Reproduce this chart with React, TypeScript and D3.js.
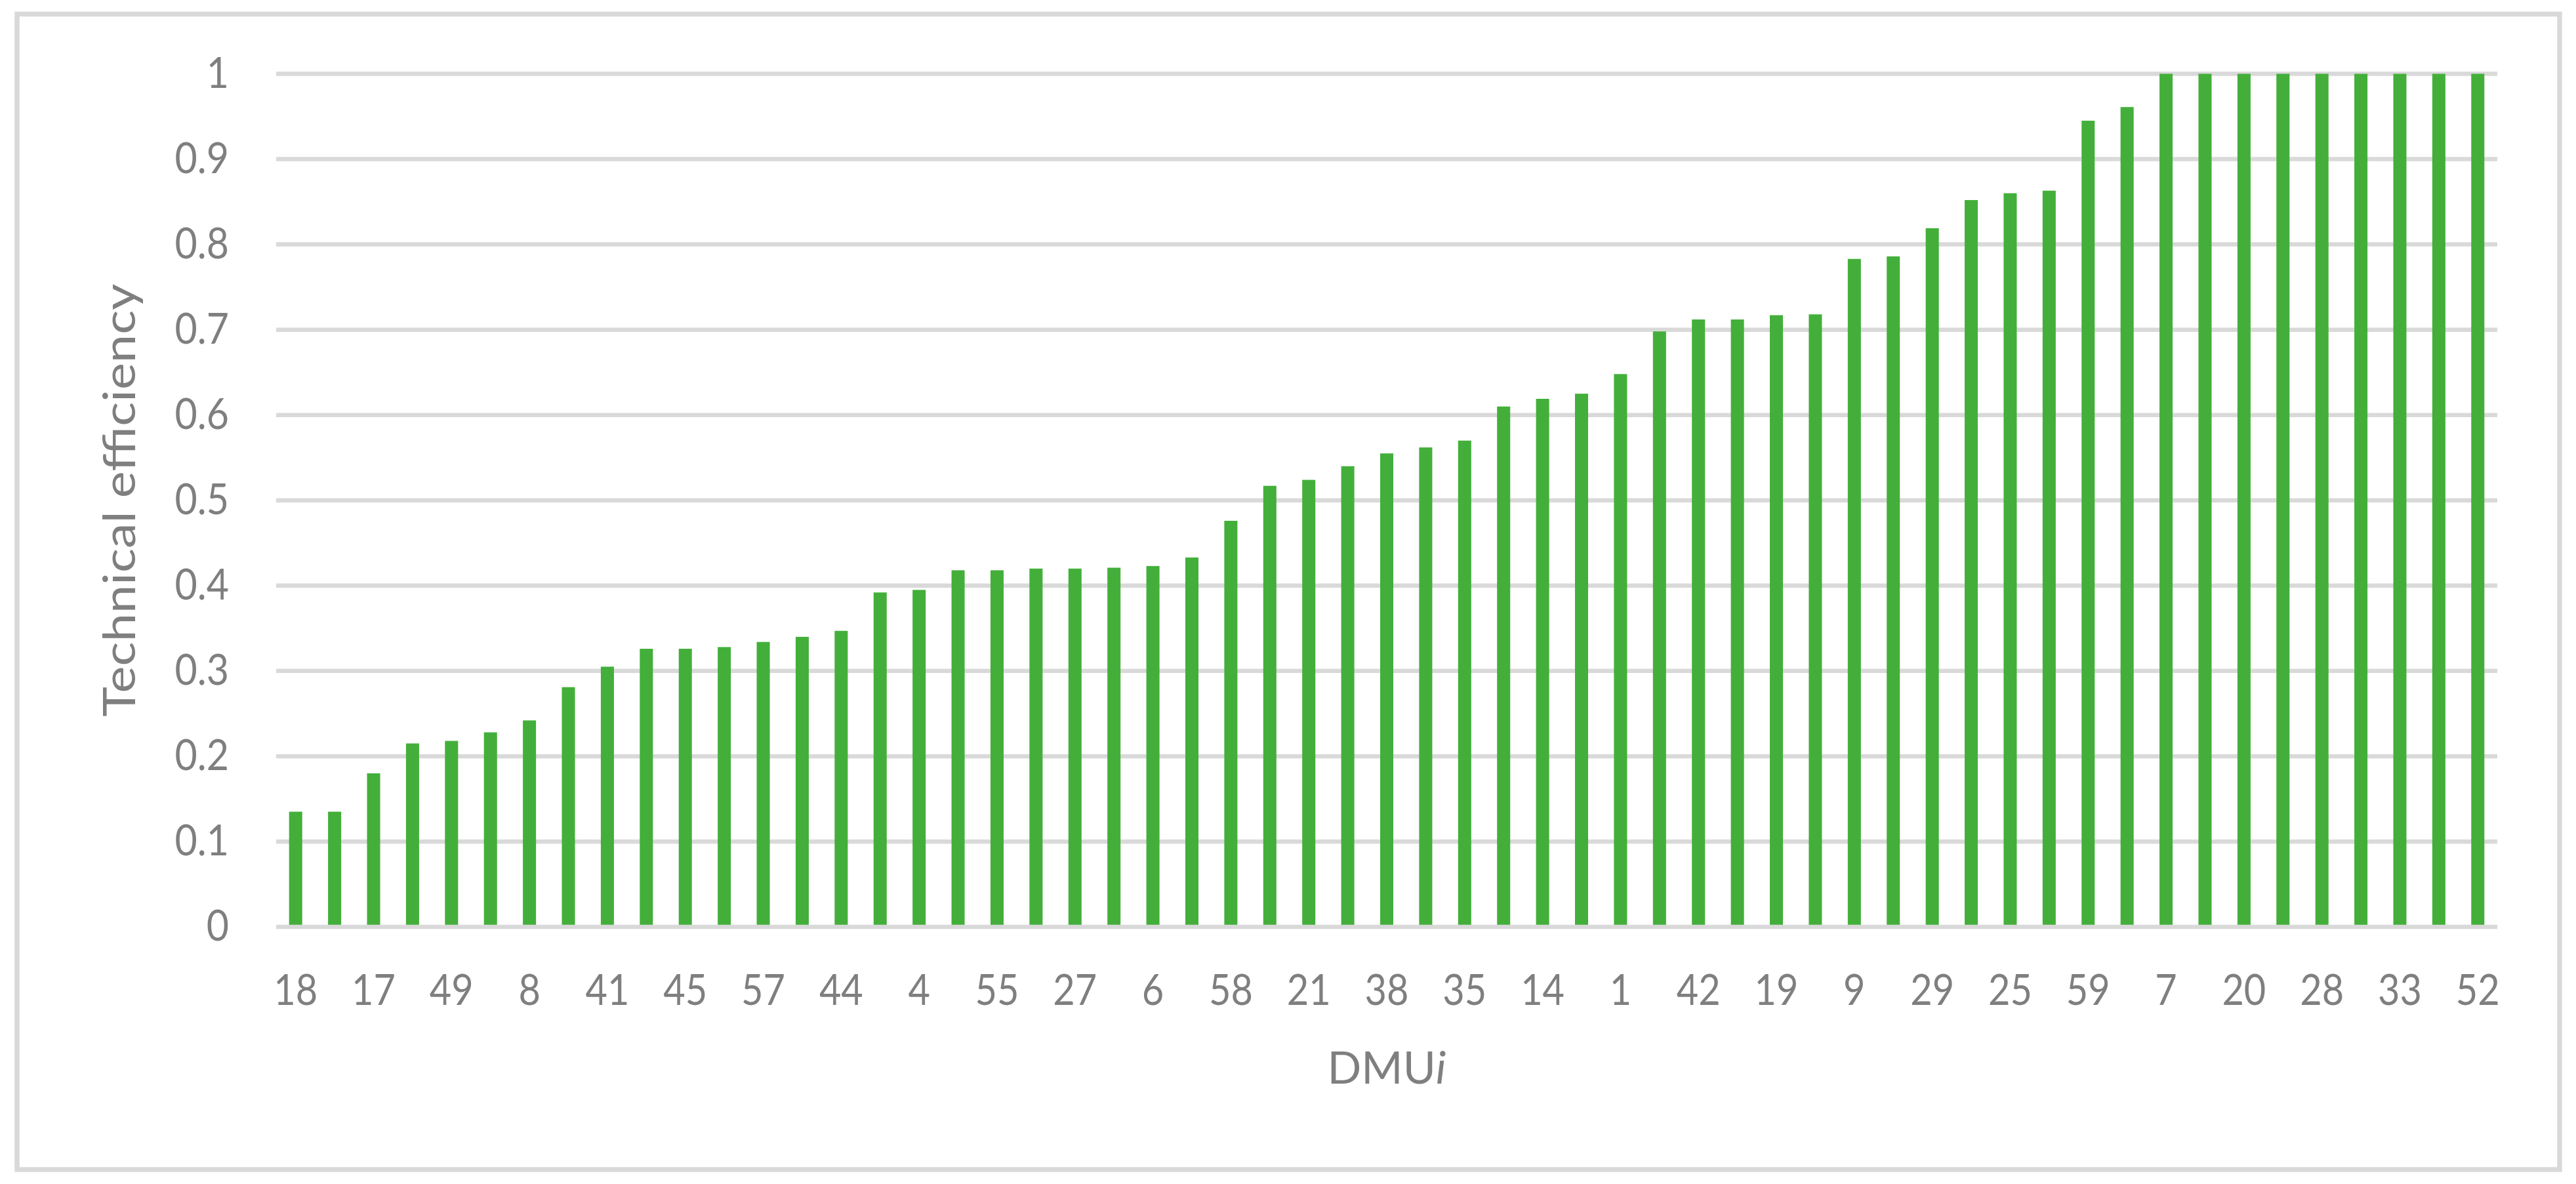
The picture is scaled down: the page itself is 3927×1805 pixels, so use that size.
import React from "react";
import * as d3 from "d3";

// DMU labels (only every other category label is displayed in the source chart)
const dmuLabels: string[] = [
  "18", "", "17", "", "49", "", "8", "", "41", "", "45", "", "57", "", "44", "",
  "4", "", "55", "", "27", "", "6", "", "58", "", "21", "", "38", "", "35", "",
  "14", "", "1", "", "42", "", "19", "", "9", "", "29", "", "25", "", "59", "",
  "7", "", "20", "", "28", "", "33", "", "52",
];

const efficiency: number[] = [
  0.135, 0.135, 0.18, 0.215, 0.218, 0.228, 0.242, 0.281, 0.305, 0.326,
  0.326, 0.328, 0.334, 0.34, 0.347, 0.392, 0.395, 0.418, 0.418, 0.42,
  0.42, 0.421, 0.423, 0.433, 0.476, 0.517, 0.524, 0.54, 0.555, 0.562,
  0.57, 0.61, 0.619, 0.625, 0.648, 0.698, 0.712, 0.712, 0.717, 0.718,
  0.783, 0.786, 0.819, 0.852, 0.86, 0.863, 0.945, 0.961, 1, 1,
  1, 1, 1, 1, 1, 1, 1,
];

const yTicks: number[] = [0, 0.1, 0.2, 0.3, 0.4, 0.5, 0.6, 0.7, 0.8, 0.9, 1];

const W = 3927;
const H = 1805;
const plot = { left: 421, right: 3807, top: 112.5, bottom: 1413 };
const FONT = "Lato, 'Open Sans', sans-serif";
const TEXT = "#7f7f7f";
const GRID = "#d9d9d9";
const BAR = "#43af3a";

export default function App() {
  const idx = efficiency.map((_, i) => String(i));
  const gap = 0.663;
  const x = d3
    .scaleBand<string>()
    .domain(idx)
    .range([plot.left, plot.right])
    .paddingInner(gap)
    .paddingOuter(gap / 2);
  const y = d3.scaleLinear().domain([0, 1]).range([plot.bottom, plot.top]);
  const fmt = (v: number) => (v === 0 ? "0" : v === 1 ? "1" : d3.format(".1f")(v));

  return (
    <svg
      width={W}
      height={H}
      viewBox={`0 0 ${W} ${H}`}
      style={{ position: "absolute", left: 0, top: 0, background: "#fff" }}
    >
      <rect x={0} y={0} width={W} height={H} fill="#fff" />
      <rect x={26} y={21.5} width={3876} height={1761.5} fill="none" stroke={GRID} strokeWidth={7.5} />

      {/* gridlines */}
      {yTicks.filter((t) => t > 0).map((t) => (
        <line key={"g" + t} x1={plot.left} x2={plot.right} y1={y(t)} y2={y(t)} stroke={GRID} strokeWidth={6.5} />
      ))}

      {/* bars */}
      {efficiency.map((v, i) => (
        <rect
          key={"b" + i}
          x={x(String(i))}
          width={x.bandwidth()}
          y={y(v)}
          height={y(0) - y(v)}
          fill={BAR}
        />
      ))}

      {/* category axis line */}
      <line x1={plot.left} x2={plot.right} y1={y(0)} y2={y(0)} stroke={GRID} strokeWidth={6.5} />

      {/* y tick labels */}
      {yTicks.map((t) => (
        <g key={"yt" + t} transform={`translate(349,${y(t) + 21}) scale(0.9,1)`}>
          <text textAnchor="end" fontFamily={FONT} fontSize={65.6} fill={TEXT}>
            {fmt(t)}
          </text>
        </g>
      ))}

      {/* x tick labels */}
      {dmuLabels.map((lab, i) =>
        lab ? (
          <g
            key={"xt" + i}
            transform={`translate(${(x(String(i)) as number) + x.bandwidth() / 2},1531.5) scale(0.88,1)`}
          >
            <text textAnchor="middle" fontFamily={FONT} fontSize={65.6} fill={TEXT}>
              {lab}
            </text>
          </g>
        ) : null
      )}

      {/* axis titles */}
      <text
        x={(plot.left + plot.right) / 2}
        y={1652}
        textAnchor="middle"
        fontFamily={FONT}
        fontSize={67}
        fill={TEXT}
        textLength={181}
        lengthAdjust="spacingAndGlyphs"
      >
        DMU<tspan fontStyle="italic">i</tspan>
      </text>
      <text
        transform={`translate(206,${(plot.top + plot.bottom) / 2}) rotate(-90)`}
        textAnchor="middle"
        fontFamily={FONT}
        fontSize={67}
        fill={TEXT}
        textLength={660}
        lengthAdjust="spacingAndGlyphs"
      >
        Technical efficiency
      </text>
    </svg>
  );
}
